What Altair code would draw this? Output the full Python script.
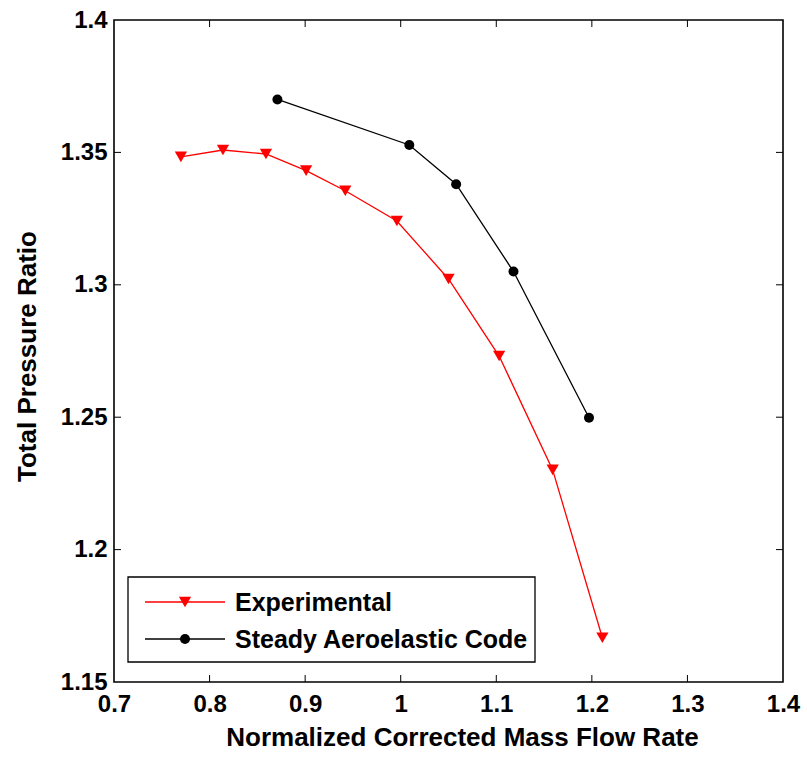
import altair as alt
import pandas as pd

# ---- data ----
exp_x = [0.770, 0.814, 0.859, 0.901, 0.942, 0.996, 1.050, 1.103, 1.159, 1.211]
exp_y = [1.3483, 1.3509, 1.3494, 1.3431, 1.3355, 1.3241, 1.3022, 1.2731, 1.2301, 1.1667]
code_x = [0.871, 1.009, 1.058, 1.118, 1.197]
code_y = [1.3700, 1.3528, 1.3380, 1.3050, 1.2498]

x_ticks = [0.7, 0.8, 0.9, 1.0, 1.1, 1.2, 1.3, 1.4]
y_ticks = [1.15, 1.2, 1.25, 1.3, 1.35, 1.4]

series_names = ["Experimental", "Steady Aeroelastic Code"]
series_colors = ["#ff0000", "#000000"]

W, H = 669, 662
FONT = "Liberation Sans"

exp_df = pd.DataFrame({"x": exp_x, "y": exp_y})
code_df = pd.DataFrame({"x": code_x, "y": code_y})

xs = alt.Scale(domain=[0.7, 1.4], nice=False, zero=False)
ys = alt.Scale(domain=[1.15, 1.4], nice=False, zero=False)

x_enc = alt.X("x:Q", scale=xs, axis=alt.Axis(
    values=x_ticks, title="Normalized Corrected Mass Flow Rate",
    labelExpr="datum.value == 1 ? '1' : format(datum.value, '.1~f')",
    labelFlush=False, titleX=348, titleAnchor="start", titleAlign="center"))
y_enc = alt.Y("y:Q", scale=ys, axis=alt.Axis(
    values=y_ticks, title="Total Pressure Ratio",
    labelExpr="format(datum.value, '.2~f')",
    labelFlush=False, titleX=-87, titleY=336, titleAnchor="start",
    titleAlign="center", titleBaseline="middle"))

exp_line = alt.Chart(exp_df).mark_line(color=series_colors[0], strokeWidth=1.3).encode(x=x_enc, y=y_enc)
exp_pts = alt.Chart(exp_df).mark_point(shape="triangle-down", filled=True, size=150, opacity=1,
                                       color=series_colors[0]).encode(x="x:Q", y="y:Q")
code_line = alt.Chart(code_df).mark_line(color=series_colors[1], strokeWidth=1.3).encode(x="x:Q", y="y:Q")
code_pts = alt.Chart(code_df).mark_point(shape="circle", filled=True, size=100, opacity=1,
                                         color=series_colors[1]).encode(x="x:Q", y="y:Q")

# inward tick marks on all four sides
xt_df = pd.DataFrame({"x": x_ticks[1:-1]})
yt_df = pd.DataFrame({"y": y_ticks[1:-1]})
TL = 7
xt_bot = alt.Chart(xt_df).mark_rule(color="black", strokeWidth=1).encode(
    x="x:Q", y=alt.value(H), y2=alt.value(H - TL))
xt_top = alt.Chart(xt_df).mark_rule(color="black", strokeWidth=1).encode(
    x="x:Q", y=alt.value(0), y2=alt.value(TL))
yt_left = alt.Chart(yt_df).mark_rule(color="black", strokeWidth=1).encode(
    y="y:Q", x=alt.value(0), x2=alt.value(TL))
yt_right = alt.Chart(yt_df).mark_rule(color="black", strokeWidth=1).encode(
    y="y:Q", x=alt.value(W), x2=alt.value(W - TL))

# legend (manual, drawn in plot pixel space)
leg_box = alt.Chart(pd.DataFrame({"a": [0]})).mark_rect(
    fill="white", stroke="black", strokeWidth=1.3).encode(
    x=alt.value(14), x2=alt.value(421), y=alt.value(557), y2=alt.value(642))
leg_rows = pd.DataFrame({
    "name": series_names,
    "color": series_colors,
    "shape": ["triangle-down", "circle"],
    "size": [150, 100],
    "py": [582, 619],
})
leg_line_x1 = 31
leg_line_x2 = 111
leg_mark_x = 71
leg_text_x = 121
leg_layers = []
for i, row in leg_rows.iterrows():
    d = pd.DataFrame({"a": [0]})
    leg_layers.append(alt.Chart(d).mark_rule(color=row["color"], strokeWidth=1.3).encode(
        x=alt.value(leg_line_x1), x2=alt.value(leg_line_x2), y=alt.value(row["py"])))
    leg_layers.append(alt.Chart(d).mark_point(shape=row["shape"], filled=True, size=row["size"],
                                              opacity=1, color=row["color"]).encode(
        x=alt.value(leg_mark_x), y=alt.value(row["py"])))
    leg_layers.append(alt.Chart(d).mark_text(text=row["name"], align="left", baseline="middle",
                                             font=FONT, fontSize=25, fontWeight="bold",
                                             color="black").encode(
        x=alt.value(leg_text_x), y=alt.value(row["py"] + 1)))

chart = alt.layer(
    exp_line, code_line, exp_pts, code_pts,
    xt_bot, xt_top, yt_left, yt_right,
    leg_box, *leg_layers
).properties(
    width=W, height=H,
    autosize=alt.AutoSizeParams(type="none"),
    padding={"left": 114, "top": 20, "right": 24, "bottom": 75},
    background="white",
).configure_view(
    stroke="black", strokeWidth=1.6
).configure_axis(
    domain=False, grid=False, ticks=False,
    labelFont=FONT, labelFontSize=24, labelColor="black", labelFontWeight="bold",
    titleFont=FONT, titleFontSize=26, titleColor="black", titleFontWeight="bold",
).configure_axisX(
    labelPadding=10, titlePadding=8,
).configure_axisY(
    labelPadding=7,
)

chart.save("out.html", embed_options={"renderer": "svg", "actions": False})
